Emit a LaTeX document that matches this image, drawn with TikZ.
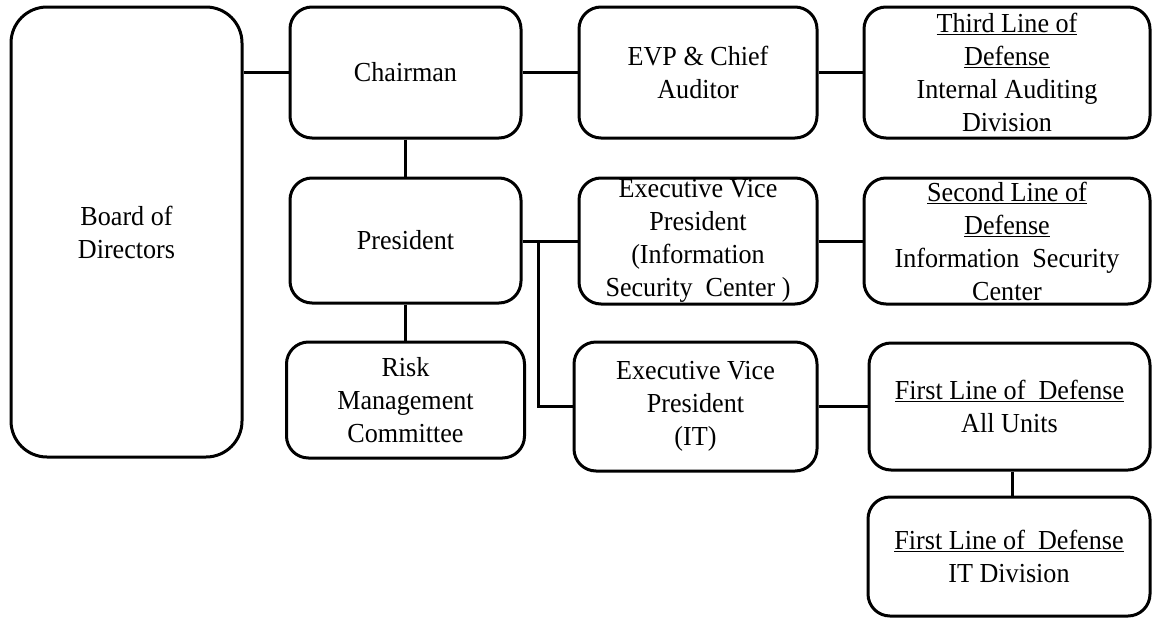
\documentclass[tikz,border=0pt]{standalone}
\usepackage{fontspec}
\setmainfont[FakeStretch=0.95]{Liberation Serif}
\begin{document}
\begin{tikzpicture}[x=1pt,y=-1pt,
  box/.style={draw=black, line width=3pt, rounded corners=22pt, align=center, inner sep=0pt,
    font=\fontsize{27.5}{33}\selectfont},
  link/.style={draw=black, line width=3pt}]
\useasboundingbox (0,0) rectangle (1153,621);
\node[box, rounded corners=36pt, minimum width=231pt, minimum height=450pt] (board) at (126.5,232) {Board of\\Directors};
\node[box, minimum width=231pt, minimum height=131pt] (chair) at (405.5,72.5) {Chairman};
\node[box, minimum width=238pt, minimum height=131pt] (evpa) at (698,72.5) {EVP \& Chief\\Auditor};
\node[box, minimum width=286pt, minimum height=131pt] (third) at (1007,72.5) {\underline{Third Line of}\\\underline{Defense}\\Internal Auditing\\Division};
\node[box, minimum width=231pt, minimum height=125pt] (pres) at (405.5,240.5) {President};
\node[box, minimum width=238pt, minimum height=126pt] (evpi) at (698,241) {Executive Vice\\President\\(Information\\Security\ \ Center )};
\node[box, minimum width=286pt, minimum height=126pt] (second) at (1007,241) {\underline{Second Line of}\\\underline{Defense}\\Information\ \ Security\\Center};
\node[box, minimum width=238pt, minimum height=116pt] (risk) at (405.5,400) {Risk\\Management\\Committee};
\node[box, minimum width=243pt, minimum height=129pt] (evpit) at (695.5,406.5) {Executive Vice\\President\\(IT)};
\node[box, minimum width=281pt, minimum height=127pt] (first) at (1009.5,406.5) {\underline{First Line of\ \ Defense}\\All Units};
\node[box, minimum width=282pt, minimum height=119pt] (itdiv) at (1009,556.5) {\underline{First Line of\ \ Defense}\\IT Division};
\coordinate (br) at (538,242);
\draw[link] (board.east |- chair.west) -- (chair.west);
\draw[link] (chair.east) -- (evpa.west);
\draw[link] (evpa.east) -- (third.west);
\draw[link] (chair.south) -- (pres.north);
\draw[link] (pres.east |- evpi.west) -- (evpi.west);
\draw[link] (evpi.east) -- (second.west);
\draw[link] (pres.south) -- (risk.north);
\draw[link] (br) |- (evpit.west);
\draw[link] (evpit.east) -- (first.west);
\draw[link] (first.south -| 1012,0) -- (itdiv.north -| 1012,0);
\end{tikzpicture}
\end{document}
